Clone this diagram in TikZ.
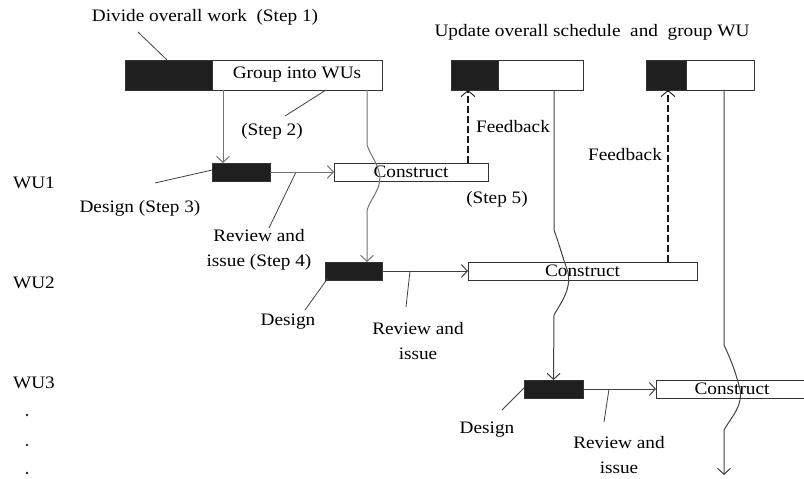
\documentclass[tikz,border=0pt]{standalone}
\usepackage{fontspec}
\setmainfont[FakeStretch=1.1]{Liberation Serif}
\usetikzlibrary{positioning,arrows.meta,calc}

\begin{document}
\begin{tikzpicture}[x=1pt, y=-1pt,
    font=\fontsize{17.5}{22}\selectfont,
    bar/.style={draw=black!80, line width=0.9pt, inner sep=0pt, outer sep=0pt,
                minimum height=30pt},
    done/.style={bar, fill=black!88},
    todo/.style={bar, fill=white},
    task/.style={draw=black!80, line width=0.9pt, inner sep=0pt, outer sep=0pt,
                 minimum height=18pt},
    dsgn/.style={task, fill=black!88},
    cons/.style={task, fill=white},
    lbl/.style={align=center, inner sep=1pt},
    twoline/.style={lbl, font=\fontsize{17.5}{24.5}\selectfont},
    wudot/.style={circle, fill=black!85, inner sep=0pt, minimum size=2.6pt},
    flow/.style={draw=black!55, line width=1pt,
                 -{Straight Barb[length=6pt, width=13pt]}},
    flowd/.style={flow, draw=black!75},
    fb/.style={draw=black!90, line width=2.6pt, dash pattern=on 7pt off 3pt,
               -{Straight Barb[length=6pt, width=14pt, line width=0.9pt]}},
    lead/.style={draw=black!75, line width=0.8pt}
  ]
  \useasboundingbox (0,0) rectangle (804,479);

  % ---- overall schedule bars ----
  \node[done, minimum width=87pt, anchor=north west] (divide) at (125,60) {};
  \node[todo, minimum width=170pt, right=0pt of divide] (group) {Group into WUs};
  \node[done, minimum width=47pt, anchor=north west] (upd1d) at (451,60) {};
  \node[todo, minimum width=85pt, right=0pt of upd1d] (upd1g) {};
  \node[done, minimum width=40pt, anchor=north west] (upd2d) at (646,60) {};
  \node[todo, minimum width=68pt, right=0pt of upd2d] (upd2g) {};

  % ---- work units ----
  \node[dsgn, minimum width=58pt, anchor=north west] (d1) at (212,163) {};
  \node[cons, minimum width=154pt, anchor=north west] (c1) at (334,163) {Construct};
  \node[dsgn, minimum width=57pt, anchor=north west] (d2) at (325,262) {};
  \node[cons, minimum width=229pt, anchor=north west] (c2) at (468,262) {Construct};
  \node[dsgn, minimum width=59pt, anchor=north west] (d3) at (524,380) {};
  \node[cons, minimum width=152pt, anchor=north west] (c3) at (656,380) {Construct};

  % ---- row labels ----
  \node[lbl] (wu1) at (34,183) {WU1};
  \node[lbl] (wu2) at (34,283) {WU2};
  \node[lbl] (wu3) at (34,383) {WU3};
  \node[wudot] (dot1) at (27,415) {};
  \node[wudot] (dot2) at (27,445) {};
  \node[wudot] (dot3) at (27,473) {};

  % ---- step labels ----
  \node[lbl] (step1) at (205,17) {Divide overall work\ \ (Step 1)};
  \node[lbl] (update) at (592,32) {Update overall schedule\ \ and\ \ group WU};
  \node[lbl] (step2) at (272,131) {(Step 2)};
  \node[lbl] (step3) at (140,208) {Design (Step 3)};
  \node[twoline] (step4) at (259,250) {Review and\\ issue (Step 4)};
  \node[lbl] (step5) at (497,199) {(Step 5)};
  \node[lbl] (des2) at (288,322) {Design};
  \node[twoline] (rev2) at (418,341) {Review and\\ issue};
  \node[lbl] (des3) at (487,430) {Design};
  \node[twoline] (rev3) at (619,455) {Review and\\ issue};
  \node[lbl] (fbk1) at (513,127) {Feedback};
  \node[lbl] (fbk2) at (625,155) {Feedback};

  % ---- leader lines ----
  \coordinate (l1) at (138,32);
  \coordinate (l2) at (285,116);
  \coordinate (l3) at (155,183);
  \coordinate (l4) at (269,228);
  \coordinate (l5) at (305,310);
  \coordinate (l6) at (406,307);
  \coordinate (l7) at (502,410);
  \coordinate (l8) at (604,422);
  \draw[lead] (l1) -- (divide.north -| 167,0);
  \draw[lead] (l2) -- ($(group.south west)+(114,0)$);
  \draw[lead] (l3) -- ($(d1.west)+(0,-2)$);
  \draw[lead] (l4) -- ($(d1.east)+(26,0)$);
  \draw[lead] (l5) -- ($(d2.west)+(3,7)$);
  \draw[lead] (l6) -- ($(d2.east)+(28,0)$);
  \draw[lead] (l7) -- ($(d3.west)+(0,-1)$);
  \draw[lead] (l8) -- ($(d3.east)+(26,0)$);

  % ---- design -> construct ----
  \draw[flow] (d1) -- (c1);
  \draw[flowd] (d2) -- (c2);
  \draw[flowd] (d3) -- (c3);

  % ---- schedule -> work units ----
  \draw[flow] ($(group.south west)+(11,0)$) -- ($(d1.north west)+(11,0)$);
  \draw[flow] ($(group.south east)+(-15,0)$) -- ++(0,55)
    to[out=-70, in=105] ++(12,27) to[out=-75, in=70] ++(-12,38)
    -- ($(d2.north east)+(-15,0)$);
  \draw[flowd] ($(upd1g.south east)+(-29,0)$) -- ++(0,140)
    to[out=-70, in=110] ++(14,42) to[out=-80, in=60] ++(-14,43)
    -- (d3.north);
  \coordinate (j3end) at (724,475);
  \draw[flowd] ($(upd2g.south east)+(-30,0)$) -- ++(0,255)
    to[out=-65, in=105] ++(16,44) to[out=-80, in=60] ++(-16,41)
    -- (j3end);

  % ---- feedback ----
  \coordinate (fb1) at ($(c1.north east)+(-20,0)$);
  \coordinate (fb2) at ($(c2.north east)+(-29,0)$);
  \draw[fb] (fb1) -- (fb1 |- upd1d.south);
  \draw[fb] (fb2) -- (fb2 |- upd2d.south);

\end{tikzpicture}
\end{document}
